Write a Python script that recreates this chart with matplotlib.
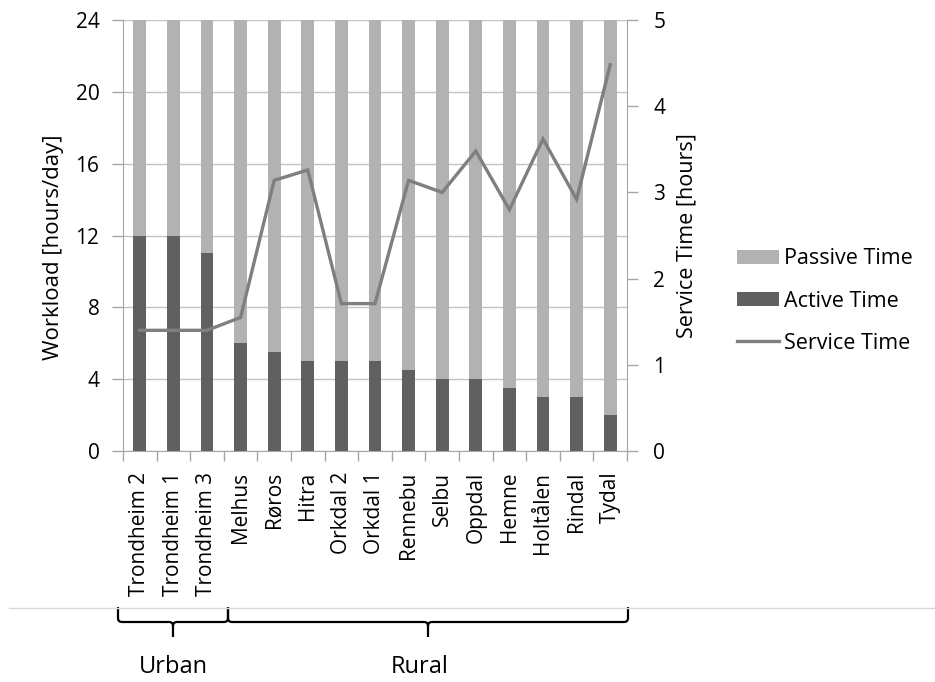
import matplotlib
matplotlib.use("Agg")
import matplotlib.pyplot as plt
from matplotlib.path import Path
from matplotlib.patches import PathPatch
from matplotlib.lines import Line2D
from matplotlib.transforms import Affine2D
import numpy as np

plt.rcParams['font.family'] = ['Open Sans', 'DejaVu Sans']

municipalities = ["Trondheim 2", "Trondheim 1", "Trondheim 3", "Melhus", "Røros", "Hitra",
                  "Orkdal 2", "Orkdal 1", "Rennebu", "Selbu", "Oppdal", "Hemne",
                  "Holtålen", "Rindal", "Tydal"]
active_time = [12, 12, 11, 6, 5.5, 5, 5, 5, 4.5, 4, 4, 3.5, 3, 3, 2]
day_hours = 24
passive_time = [day_hours - a for a in active_time]
service_time = [1.40, 1.40, 1.40, 1.55, 3.14, 3.26, 1.71, 1.71, 3.14, 3.00, 3.48, 2.80, 3.62, 2.92, 4.48]
left_ticks = [0, 4, 8, 12, 16, 20, 24]
right_ticks = [0, 1, 2, 3, 4, 5]

W, H = 935, 682
fig = plt.figure(figsize=(W / 100, H / 100), dpi=100)
ax = fig.add_axes([123 / W, 1 - 451 / H, (627 - 123) / W, (451 - 20) / H])

C_ACTIVE = "#606060"
C_PASSIVE = "#b2b2b2"
C_LINE = "#7f7f7f"
C_GRID = "#c4c4c4"
C_AXIS = "#a6a6a6"
FS = 15

x = np.arange(len(municipalities))
bw = 0.38
b_active = ax.bar(x, active_time, bw, color=C_ACTIVE, label="Active Time", zorder=2)
b_passive = ax.bar(x, passive_time, bw, bottom=active_time, color=C_PASSIVE,
                   label="Passive Time", zorder=2)

ax.set_xlim(-0.5, len(municipalities) - 0.5)
ax.set_ylim(0, 24)
ax.set_yticks(left_ticks)
ax.set_xticks(x)
ax.set_xticklabels(municipalities, rotation=90, fontsize=FS)
ax.set_xticks(np.arange(-0.5, len(municipalities), 1.0), minor=True)
ax.tick_params(axis='x', which='major', length=0, pad=15)
ax.tick_params(axis='x', which='minor', length=7, color=C_AXIS, width=1)
ax.tick_params(axis='y', length=8, color=C_AXIS, width=1, labelsize=FS, pad=9)
ax.yaxis.grid(True, color=C_GRID, linewidth=1, zorder=0)
ax.set_axisbelow(True)
for side in ["left", "right", "bottom"]:
    ax.spines[side].set_color(C_AXIS)
ax.spines["top"].set_visible(False)
ax.set_ylabel("Workload [hours/day]", fontsize=16)
ax.yaxis.label.set_verticalalignment("center")
ax.yaxis.set_label_coords((54 - 123) / 504, 0.472)

ax2 = ax.twinx()
ln, = ax2.plot(x, service_time, color=C_LINE, linewidth=2.4, label="Service Time",
               solid_joinstyle="miter", zorder=3)
ax2.set_ylim(0, 5)
ax2.set_yticks(right_ticks)
ax2.tick_params(axis='y', length=8, color=C_AXIS, width=1, labelsize=FS, pad=11)
for side in ["left", "right", "bottom", "top"]:
    ax2.spines[side].set_visible(False)
ax2.set_ylabel("Service Time [hours]", fontsize=15.5)
ax2.yaxis.label.set_verticalalignment("center")
ax2.yaxis.set_label_coords((687 - 123) / 504, 0.5)

fig.legend(handles=[b_passive, b_active, ln],
           labels=["Passive Time", "Active Time", "Service Time"],
           loc="center left", bbox_to_anchor=(737 / W, 1 - 301 / H),
           frameon=False, fontsize=15.5, handlelength=1.95, handleheight=0.65,
           handletextpad=0.25, labelspacing=0.98, borderpad=0, borderaxespad=0)

# pixel-space transform (origin top-left) for the grouping annotation below the axis
px = Affine2D().scale(1 / W, -1 / H).translate(0, 1) + fig.transFigure

fig.add_artist(Line2D([9, W], [608, 608], color="#d9d9d9", linewidth=1, transform=px))


def brace(x0, x1, ytop=607, ymid=622, ybot=637, r=4):
    xm = (x0 + x1) / 2
    verts = [(x0, ytop), (x0, ymid - r), (x0, ymid), (x0 + r, ymid),
             (xm - r, ymid), (xm, ymid), (xm, ymid + r), (xm, ybot),
             (xm, ymid + r), (xm, ymid), (xm + r, ymid),
             (x1 - r, ymid), (x1, ymid), (x1, ymid - r), (x1, ytop)]
    codes = [Path.MOVETO, Path.LINETO, Path.CURVE3, Path.CURVE3,
             Path.LINETO, Path.CURVE3, Path.CURVE3, Path.LINETO,
             Path.MOVETO, Path.CURVE3, Path.CURVE3,
             Path.LINETO, Path.CURVE3, Path.CURVE3, Path.LINETO]
    fig.add_artist(PathPatch(Path(verts, codes), facecolor="none", edgecolor="black",
                             linewidth=1.6, transform=px))
    return xm


xu = brace(118, 228)
xr = brace(228, 628)
fig.text(xu / W, 1 - 667 / H, "Urban", ha="center", va="center", fontsize=17)
fig.text((xr - 8) / W, 1 - 667 / H, "Rural", ha="center", va="center", fontsize=17)

fig.savefig("out.png", dpi=100)
